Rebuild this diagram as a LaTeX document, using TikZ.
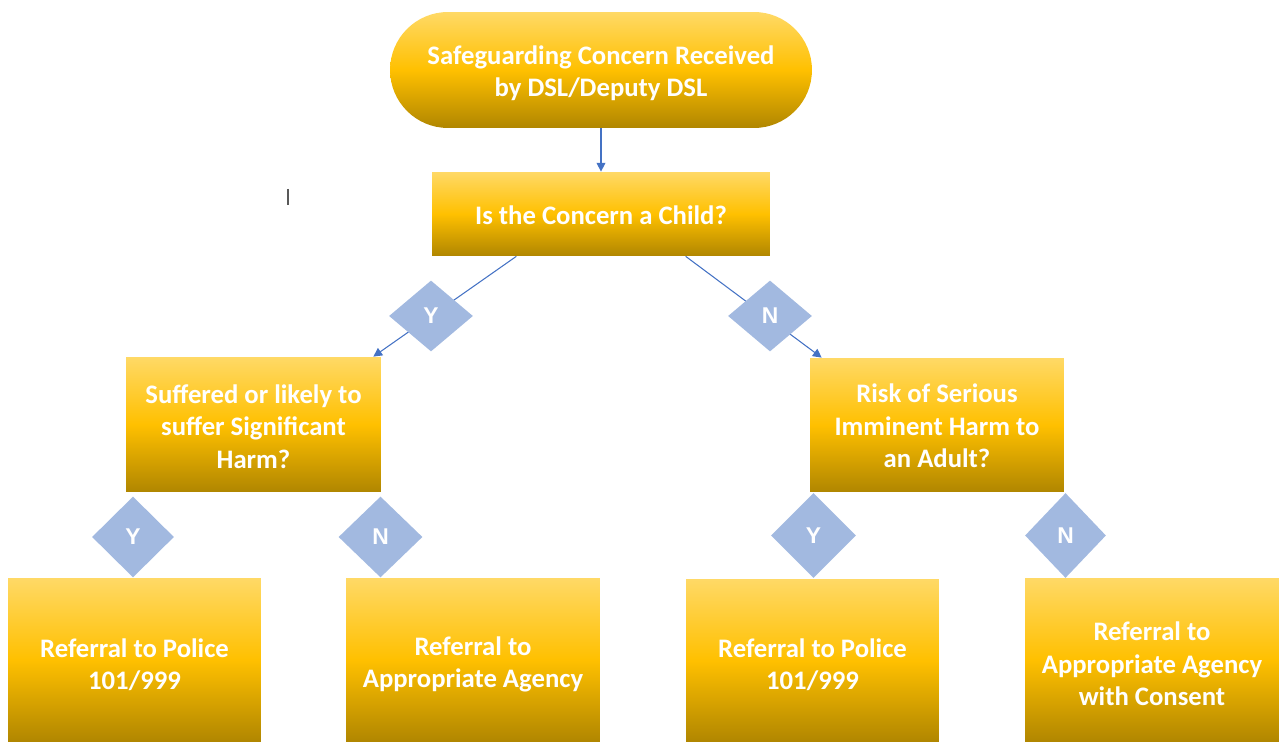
\documentclass[tikz,border=0pt]{standalone}
\usepackage{fontspec}
\setmainfont{Carlito}
\newfontfamily\dfont{Liberation Sans}
\usetikzlibrary{shapes.geometric,arrows.meta,calc}
\definecolor{gtop}{RGB}{255,217,102}
\definecolor{gmid}{RGB}{255,192,0}
\definecolor{gbot}{RGB}{176,134,0}
\definecolor{dia}{RGB}{162,185,224}
\definecolor{conn}{RGB}{68,114,196}
\tikzset{
  gbox/.style={rectangle, draw=none, top color=gtop, bottom color=gbot, middle color=gmid, inner sep=0pt},
  gtext/.style={text=white, font=\fontsize{15.2}{18.4}\selectfont\bfseries, align=center, inner sep=0pt},
  dbox/.style={diamond, fill=dia, draw=none, text=white, inner sep=0pt,
    font=\dfont\fontsize{13}{15}\selectfont\bfseries},
  conline/.style={draw=conn, line width=0.6pt},
  conarrow/.style={conline, -{Triangle[width=5pt,length=5pt]}}
}
\begin{document}
\begin{tikzpicture}[x=0.02cm,y=-0.02cm]
\useasboundingbox (0,0) rectangle (1286,742);
% boxes
\node[gbox, minimum width=8.44cm, minimum height=2.32cm, rounded corners=1.16cm] (top) at (601,70) {};
\node[gbox, minimum width=6.76cm, minimum height=1.68cm] (child) at (601,214) {};
\node[gbox, minimum width=5.1cm, minimum height=2.7cm] (harm) at (253.5,424.5) {};
\node[gbox, minimum width=5.08cm, minimum height=2.68cm] (risk) at (937,425) {};
\node[gbox, minimum width=5.06cm, minimum height=3.28cm] (b1) at (134.5,660) {};
\node[gbox, minimum width=5.08cm, minimum height=3.28cm] (b2) at (473,660) {};
\node[gbox, minimum width=5.06cm, minimum height=3.26cm] (b3) at (812.5,660.5) {};
\node[gbox, minimum width=5.08cm, minimum height=3.28cm] (b4) at (1152,660) {};
% texts
\node[gtext] (topt) at ($(top.center)+(0,3)$) {Safeguarding Concern Received\\by DSL/Deputy DSL};
\node[gtext] (childt) at ($(child.center)+(0,1)$) {Is the Concern a Child?};
\node[gtext] (harmt) at ($(harm.center)+(0,2)$) {Suffered or likely to\\suffer Significant\\Harm?};
\node[gtext] (riskt) at ($(risk.center)+(0,1)$) {Risk of Serious\\Imminent Harm to\\an Adult?};
\node[gtext] (b1t) at ($(b1.center)+(0,4.5)$) {Referral to Police\\101/999};
\node[gtext] (b2t) at ($(b2.center)+(0,4.5)$) {Referral to\\Appropriate Agency};
\node[gtext] (b3t) at ($(b3.center)+(0,4)$) {Referral to Police\\101/999};
\node[gtext] (b4t) at ($(b4.center)+(0,4)$) {Referral to\\Appropriate Agency\\with Consent};
% connectors
\draw[conarrow] (top.south) -- (child.north);
\draw[conarrow] ($(child.south west)!0.25!(child.south east)$) -- ($(harm.north east)+(-8,0)$);
\draw[conarrow] ($(child.south west)!0.75!(child.south east)$) -- ($(risk.north west)+(12,0)$);
% decision diamonds
\node[dbox, minimum width=1.68cm, minimum height=1.42cm] (dy1) at (431,316) {Y};
\node[dbox, minimum width=1.68cm, minimum height=1.42cm] (dn1) at (770,316) {N};
\node[dbox, minimum width=1.64cm, minimum height=1.62cm] (dy2) at (133,537) {Y};
\node[dbox, minimum width=1.68cm, minimum height=1.62cm] (dn2) at (380.5,537) {N};
\node[dbox, minimum width=1.7cm, minimum height=1.7cm] (dy3) at (813.5,535.5) {Y};
\node[dbox, minimum width=1.62cm, minimum height=1.7cm] (dn3) at (1065.5,535.5) {N};
% stray cursor mark
\draw[gray!70!black, line width=0.6pt] (288,189) -- (288,205);
\end{tikzpicture}
\end{document}
